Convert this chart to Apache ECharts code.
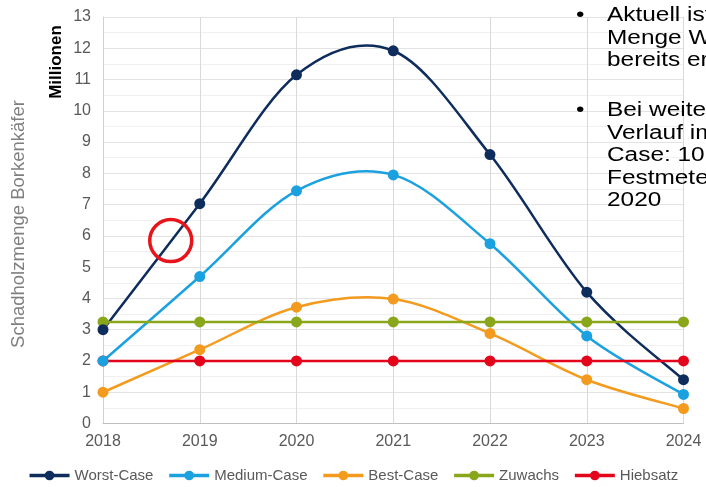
<!DOCTYPE html>
<html>
<head>
<meta charset="utf-8">
<script src="https://cdn.jsdelivr.net/npm/echarts@6/dist/echarts.min.js"></script>
<style>
html,body{margin:0;padding:0;background:#fff;}
#chart{width:706px;height:487px;}
</style>
</head>
<body>
<div id="chart"></div>
<script>
const years = [2018, 2019, 2020, 2021, 2022, 2023, 2024];
const worstCase = [3.0, 7.03, 11.15, 11.92, 8.6, 4.2, 1.4];
const mediumCase = [2.0, 4.7, 7.44, 7.95, 5.75, 2.8, 0.93];
const bestCase = [1.0, 2.36, 3.72, 3.98, 2.88, 1.4, 0.48];
const zuwachs = [3.25, 3.25, 3.25, 3.25, 3.25, 3.25, 3.25];
const hiebsatz = [2.0, 2.0, 2.0, 2.0, 2.0, 2.0, 2.0];
const seriesNames = ['Worst-Case', 'Medium-Case', 'Best-Case', 'Zuwachs', 'Hiebsatz'];
const colors = ['#0e2c5c', '#1ba1e0', '#f39b1e', '#8aa61b', '#e3051b'];
const circleMark = [[2018.7, 5.85]];
const bulletLines = [
  ['Aktuell ist', 'Menge W', 'bereits er'],
  ['Bei weiter', 'Verlauf im', 'Case: 10', 'Festmete', '2020']
];

const pair = arr => years.map((y, i) => [y, arr[i]]);
const chart = echarts.init(document.getElementById('chart'));
const font = 'Liberation Sans, Arial, sans-serif';
const allData = [worstCase, mediumCase, bestCase, zuwachs, hiebsatz];
const smoothFlags = [true, true, true, false, false];

// point/line series (carry legend + markers)
const lineSeries = allData.map((arr, i) => ({
  name: seriesNames[i],
  type: 'line',
  data: pair(arr),
  smooth: false,
  symbol: 'circle',
  symbolSize: 11,
  showSymbol: true,
  lineStyle: { width: 2.5, color: colors[i], opacity: smoothFlags[i] ? 0 : 1 },
  itemStyle: { color: colors[i] },
  z: 10 - i
}));

// smooth curves (cardinal spline through the data, via axis coordinates)
const curveSeries = allData.map((arr, si) => smoothFlags[si] ? ({
  name: seriesNames[si],
  type: 'custom',
  data: pair(arr),
  z: 4 - si * 0.1,
  silent: true,
  renderItem: (params, api) => {
    const i = params.dataIndex;
    const n = arr.length;
    if (i >= n - 1) return null;
    const P = k => {
      const kk = Math.max(0, Math.min(n - 1, k));
      return api.coord([years[kk], arr[kk]]);
    };
    const p0 = P(i - 1), p1 = P(i), p2 = P(i + 1), p3 = P(i + 2);
    const t = 1 / 6;
    return {
      type: 'bezierCurve',
      shape: {
        x1: p1[0], y1: p1[1], x2: p2[0], y2: p2[1],
        cpx1: p1[0] + (p2[0] - p0[0]) * t, cpy1: p1[1] + (p2[1] - p0[1]) * t,
        cpx2: p2[0] - (p3[0] - p1[0]) * t, cpy2: p2[1] - (p3[1] - p1[1]) * t
      },
      style: { stroke: colors[si], lineWidth: 2.5, fill: null }
    };
  }
}) : null).filter(Boolean);

// bullet text graphics
const textGraphics = [];
const lineTops = [[5.7, 28.2, 50.7], [100.7, 123.2, 145.7, 168.2, 190.7]];
bulletLines.forEach((para, pi) => {
  textGraphics.push({
    type: 'text', x: 576, y: lineTops[pi][0], scaleX: 1.2, z: 100,
    style: { text: '•', font: '20px ' + font, fill: '#000', verticalAlign: 'top' }
  });
  para.forEach((line, li) => {
    textGraphics.push({
      type: 'text', x: 607, y: lineTops[pi][li], scaleX: 1.22, z: 100,
      style: { text: line, font: '20px ' + font, fill: '#000', verticalAlign: 'top' }
    });
  });
});

chart.setOption({
  animation: false,
  color: colors,
  grid: { left: 103, right: 22.5, top: 17, bottom: 63.5, containLabel: false },
  legend: {
    data: seriesNames,
    left: 'center',
    top: 463,
    itemWidth: 40,
    itemHeight: 12,
    itemGap: 14,
    lineStyle: { opacity: 1, width: 3.5 },
    textStyle: { fontSize: 15, color: '#595959', fontFamily: font }
  },
  xAxis: {
    type: 'value',
    min: 2018, max: 2024, interval: 1,
    axisLine: { show: true, lineStyle: { color: '#bfbfbf', width: 1 } },
    axisTick: { show: false },
    axisLabel: { formatter: v => String(v), fontSize: 16, color: '#595959', fontFamily: font, margin: 10 },
    splitLine: { show: true, lineStyle: { color: '#d9d9d9', width: 1 } }
  },
  yAxis: {
    type: 'value',
    min: 0, max: 13, interval: 1,
    axisLine: { show: true, lineStyle: { color: '#d0d0d0', width: 1 } },
    axisTick: { show: false },
    axisLabel: { fontSize: 16, color: '#595959', fontFamily: font, margin: 12 },
    splitLine: { show: true, lineStyle: { color: '#e3e3e3', width: 1 } },
    minorTick: { show: false, splitNumber: 2 },
    minorSplitLine: { show: true, lineStyle: { color: '#f0f0f0', width: 1 } }
  },
  series: lineSeries.concat(curveSeries).concat([{
    name: 'Markierung',
    type: 'scatter',
    data: circleMark,
    symbol: 'circle',
    symbolSize: 42,
    itemStyle: { color: 'rgba(0,0,0,0)', borderColor: '#e8141b', borderWidth: 3.5, opacity: 1 },
    silent: true,
    z: 20
  }]),
  graphic: [
    {
      type: 'text', x: 56, y: 62, rotation: Math.PI / 2, z: 100,
      style: { text: 'Millionen', font: 'bold 17px ' + font, fill: '#000', align: 'center', verticalAlign: 'middle' }
    },
    {
      type: 'text', x: 19, y: 224, rotation: Math.PI / 2, z: 100,
      style: { text: 'Schadholzmenge Borkenkäfer', font: '18.5px ' + font, fill: '#7f7f7f', align: 'center', verticalAlign: 'middle' }
    }
  ].concat(textGraphics)
});
</script>
</body>
</html>
